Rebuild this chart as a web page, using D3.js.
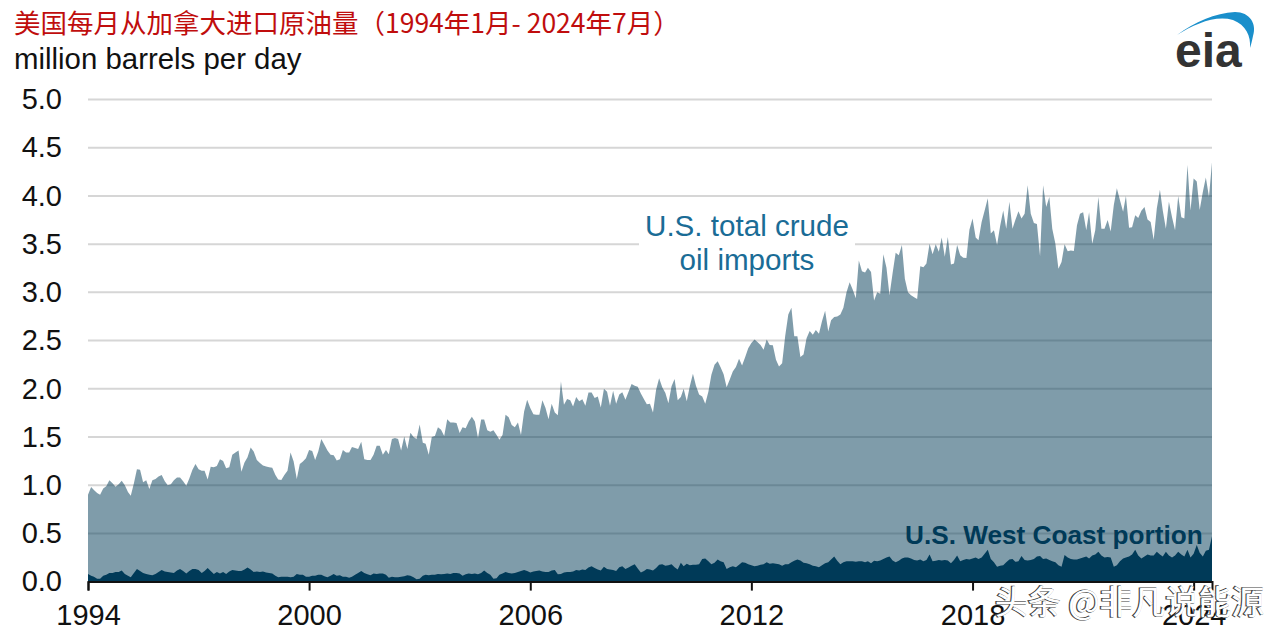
<!DOCTYPE html>
<html>
<head>
<meta charset="utf-8">
<style>
  html, body { margin: 0; padding: 0; background: #fff; }
  text { font-family: "Liberation Sans", Arial, sans-serif; }
  .cjk { font-family: "Noto Sans CJK SC", "Liberation Sans", sans-serif; }
  .tick-label { fill: #111; }
</style>
<script src="https://cdnjs.cloudflare.com/ajax/libs/d3/7.8.5/d3.min.js"></script>
</head>
<body>
<svg id="chart" width="1280" height="637"></svg>
<script>
'use strict';

var titleText = '美国每月从加拿大进口原油量（1994年1月- 2024年7月）'
  , unitText = 'million barrels per day'
  , totalLabel = ['U.S. total crude', 'oil imports']
  , westLabel = 'U.S. West Coast portion'
  , watermark = '头条 @非凡说能源'
;

var yearTicks = [1994, 2000, 2006, 2012, 2018, 2024];
var valueTicks = [0, 0.5, 1, 1.5, 2, 2.5, 3, 3.5, 4, 4.5, 5];

// monthly, starting January 1994
var totalImports = [
  .90,.98,.95,.92,.90,.965,.99,1.05,1.02,.985,1.01,1.045,
  1.0,.93,.89,1.02,1.165,1.16,1.03,1.05,.96,1.05,1.065,1.09,
  1.105,1.04,1.0,1.01,1.05,1.08,1.08,1.04,.995,1.07,1.16,1.22,
  1.165,1.15,1.15,1.06,1.19,1.185,1.2,1.27,1.25,1.175,1.185,1.315,
  1.34,1.36,1.14,1.235,1.29,1.39,1.35,1.26,1.23,1.205,1.195,1.185,
  1.18,1.105,1.06,1.055,1.105,1.15,1.34,1.245,1.065,1.22,1.245,1.28,
  1.365,1.355,1.26,1.35,1.48,1.42,1.36,1.315,1.31,1.255,1.27,1.365,
  1.34,1.34,1.395,1.385,1.375,1.45,1.27,1.26,1.26,1.315,1.41,1.41,
  1.315,1.365,1.32,1.48,1.49,1.48,1.36,1.505,1.375,1.545,1.5,1.48,
  1.63,1.44,1.43,1.315,1.5,1.51,1.6,1.575,1.51,1.685,1.65,1.65,
  1.645,1.54,1.6,1.59,1.66,1.71,1.66,1.49,1.68,1.68,1.57,1.555,
  1.57,1.52,1.47,1.52,1.73,1.705,1.625,1.6,1.65,1.52,1.765,1.885,
  1.8,1.735,1.73,1.73,1.88,1.8,1.685,1.845,1.755,1.725,2.075,1.835,
  1.895,1.88,1.815,1.915,1.87,1.89,1.825,1.96,1.96,1.905,1.92,1.805,
  2.0,1.97,1.825,1.98,1.845,1.94,1.965,1.885,1.97,2.05,2.03,2.02,
  1.95,1.89,1.84,1.845,1.755,1.99,2.11,2.015,1.955,1.85,2.025,2.1,
  1.88,1.915,2.0,1.87,2.025,2.155,2.03,1.94,1.92,1.845,1.97,2.145,
  2.25,2.285,2.225,2.15,2.015,2.095,2.18,2.225,2.31,2.24,2.33,2.42,
  2.475,2.51,2.485,2.455,2.405,2.51,2.455,2.45,2.3,2.23,2.265,2.545,
  2.77,2.84,2.545,2.545,2.33,2.355,2.525,2.6,2.56,2.61,2.57,2.7,
  2.81,2.595,2.71,2.745,2.75,2.77,2.84,3.0,3.105,3.03,2.94,3.33,
  3.22,3.205,3.255,3.21,2.915,3.0,2.985,3.395,3.255,2.97,3.2,3.41,
  3.385,3.49,3.14,3.0,2.97,2.95,2.93,3.27,3.26,3.30,3.505,3.395,
  3.5,3.42,3.57,3.37,3.575,3.29,3.3,3.49,3.385,3.36,3.355,3.65,
  3.765,3.57,3.54,3.73,3.85,3.975,3.61,3.645,3.49,3.685,3.85,3.66,
  3.94,3.66,3.75,3.84,3.765,3.815,4.11,3.815,3.72,3.71,3.375,4.11,
  3.885,3.99,3.66,3.505,3.245,3.315,3.5,3.425,3.435,3.43,3.695,3.815,
  3.83,3.645,3.83,3.505,3.645,3.99,3.66,3.66,3.75,3.63,3.905,4.08,
  3.955,3.835,4.0,3.67,3.675,3.8,3.77,3.845,3.885,3.755,3.73,3.545,
  3.87,4.065,3.85,3.66,3.94,3.78,3.645,4.0,3.78,3.765,4.32,3.85,
  4.18,4.15,3.855,4.04,4.19,3.99,4.35
];

var westCoast = [
  .08,.06,.05,.03,.03,.06,.07,.09,.09,.10,.10,.115,
  .08,.06,.045,.09,.13,.11,.09,.08,.07,.065,.08,.10,
  .12,.105,.10,.095,.09,.115,.13,.11,.085,.11,.13,.13,
  .12,.09,.11,.14,.11,.08,.10,.085,.10,.08,.105,.12,
  .115,.11,.11,.125,.145,.125,.10,.105,.10,.105,.095,.09,
  .085,.06,.045,.05,.05,.05,.045,.05,.08,.07,.07,.05,
  .05,.06,.06,.07,.07,.055,.045,.06,.08,.06,.065,.05,
  .05,.04,.05,.07,.09,.11,.09,.075,.065,.085,.08,.085,
  .085,.07,.04,.05,.045,.045,.05,.055,.065,.06,.045,.025,
  .03,.06,.07,.065,.07,.07,.08,.075,.08,.085,.08,.09,
  .09,.085,.06,.075,.085,.08,.085,.075,.09,.115,.09,.07,
  .03,.035,.07,.085,.10,.09,.085,.09,.10,.11,.12,.11,
  .095,.105,.11,.115,.105,.10,.10,.115,.12,.075,.08,.095,
  .10,.10,.105,.12,.115,.125,.12,.145,.16,.14,.125,.115,
  .155,.13,.125,.12,.11,.15,.16,.13,.145,.165,.18,.135,
  .095,.11,.13,.125,.115,.14,.175,.18,.165,.17,.18,.15,
  .125,.195,.16,.185,.17,.175,.175,.18,.235,.24,.21,.18,
  .195,.23,.21,.20,.13,.15,.16,.15,.175,.2,.195,.18,
  .17,.16,.165,.175,.18,.2,.185,.19,.185,.18,.165,.18,
  .18,.2,.215,.23,.22,.195,.19,.18,.165,.16,.15,.17,
  .19,.2,.23,.26,.215,.18,.2,.21,.21,.21,.205,.21,
  .21,.2,.21,.19,.215,.21,.22,.235,.25,.26,.22,.2,
  .215,.24,.25,.25,.24,.225,.22,.23,.21,.225,.28,.21,
  .215,.225,.22,.225,.22,.19,.225,.27,.21,.225,.235,.23,
  .24,.25,.235,.25,.29,.33,.235,.2,.155,.165,.17,.2,
  .23,.235,.205,.21,.265,.225,.22,.225,.235,.26,.265,.235,
  .24,.225,.21,.2,.17,.155,.275,.25,.235,.23,.23,.24,
  .25,.26,.24,.27,.28,.31,.27,.25,.255,.25,.155,.17,
  .21,.24,.25,.26,.28,.33,.27,.24,.26,.28,.27,.27,
  .31,.28,.26,.31,.27,.25,.27,.31,.28,.26,.33,.25,
  .29,.38,.3,.26,.32,.33,.47
];

var firstMonth = new Date(Date.UTC(1994, 0, 1));
var monthOf = function(i) { return d3.utcMonth.offset(firstMonth, i); };

var svg = d3.select('#chart');

var x = d3.scaleUtc()
  .domain([firstMonth, monthOf(totalImports.length - 1)])
  .range([88, 1212]);

var y = d3.scaleLinear()
  .domain([0, 5])
  .range([581.6, 99.5]);


/*  --  GRID  --  */
svg.append('g')
  .selectAll('line')
  .data(valueTicks.filter(function(v) { return v > 0; }))
  .enter().append('line')
  .attr('x1', x.range()[0])
  .attr('x2', x.range()[1])
  .attr('y1', function(v) { return y(v); })
  .attr('y2', function(v) { return y(v); })
  .attr('stroke', '#d6d6d6')
  .attr('stroke-width', 2);


/*  --  AREAS  --  */
var areaOf = function(values) {
  return d3.area()
    .x(function(d, i) { return x(monthOf(i)); })
    .y0(y(0))
    .y1(function(d) { return y(d); })(values);
};

svg.append('path')
  .attr('d', areaOf(totalImports))
  .attr('fill', '#003a56')
  .attr('fill-opacity', 0.5);

svg.append('path')
  .attr('d', areaOf(westCoast))
  .attr('fill', '#003a58');


/*  --  AXES  --  */
var xAxis = d3.axisBottom(x)
  .tickValues(yearTicks.map(function(yr) { return new Date(Date.UTC(yr, 0, 1)); }))
  .tickFormat(d3.utcFormat('%Y'))
  .tickSize(9)
  .tickPadding(14);

var xG = svg.append('g')
  .attr('transform', 'translate(0,' + y(0) + ')')
  .call(xAxis);
xG.select('.domain')
  .attr('stroke', '#111')
  .attr('stroke-width', 2);
xG.selectAll('.tick line').attr('stroke', '#111').attr('stroke-width', 2);
xG.selectAll('.tick text')
  .attr('class', 'tick-label')
  .style('font-size', '29px');

var yAxis = d3.axisLeft(y)
  .tickValues(valueTicks)
  .tickFormat(d3.format('.1f'))
  .tickSize(0)
  .tickPadding(0);

var yG = svg.append('g')
  .attr('transform', 'translate(62,0)')
  .call(yAxis);
yG.select('.domain').remove();
yG.selectAll('.tick text')
  .attr('class', 'tick-label')
  .style('font-size', '29px');


/*  --  LABELS  --  */
svg.append('text')
  .attr('class', 'cjk')
  .attr('x', 14)
  .attr('y', 33)
  .attr('fill', '#c00d0d')
  .style('font-size', '26.5px')
  .text(titleText);

svg.append('text')
  .attr('x', 14)
  .attr('y', 69)
  .attr('fill', '#111')
  .style('font-size', '29.4px')
  .text(unitText);

svg.append('rect')
  .attr('x', 639)
  .attr('y', 208)
  .attr('width', 216)
  .attr('height', 72)
  .attr('fill', '#fff');

svg.append('g')
  .selectAll('text')
  .data(totalLabel)
  .enter().append('text')
  .attr('x', 747)
  .attr('y', function(d, i) { return 236 + i * 34; })
  .attr('text-anchor', 'middle')
  .attr('fill', '#1a6c96')
  .style('font-size', '29.6px')
  .text(function(d) { return d; });

svg.append('text')
  .attr('x', 905)
  .attr('y', 544)
  .attr('fill', '#003a58')
  .style('font-size', '26.2px')
  .style('font-weight', 'bold')
  .text(westLabel);


/*  --  WATERMARK  --  */
svg.append('text')
  .attr('class', 'cjk')
  .attr('x', 994)
  .attr('y', 614)
  .attr('fill', 'none')
  .attr('stroke', '#444')
  .attr('stroke-width', 1.2)
  .style('font-size', '33px')
  .text(watermark);

svg.append('text')
  .attr('class', 'cjk')
  .attr('x', 995)
  .attr('y', 614)
  .attr('fill', '#fff')
  .style('font-size', '33px')
  .text(watermark);


/*  --  LOGO  --  */
var logo = svg.append('g');

logo.append('path')
  .attr('d', 'M1177,35 C1195,22 1215,13 1235,12 C1250,12 1257,24 1253,36 C1252,41 1251,45 1250,48 C1251,36 1246,25 1233,20 C1215,15 1195,24 1177,35 Z')
  .attr('fill', '#1a8fcb');

logo.append('text')
  .attr('x', 1175)
  .attr('y', 67)
  .attr('fill', '#333')
  .style('font-size', '48px')
  .style('font-weight', 'bold')
  .text('eia');
</script>
</body>
</html>
